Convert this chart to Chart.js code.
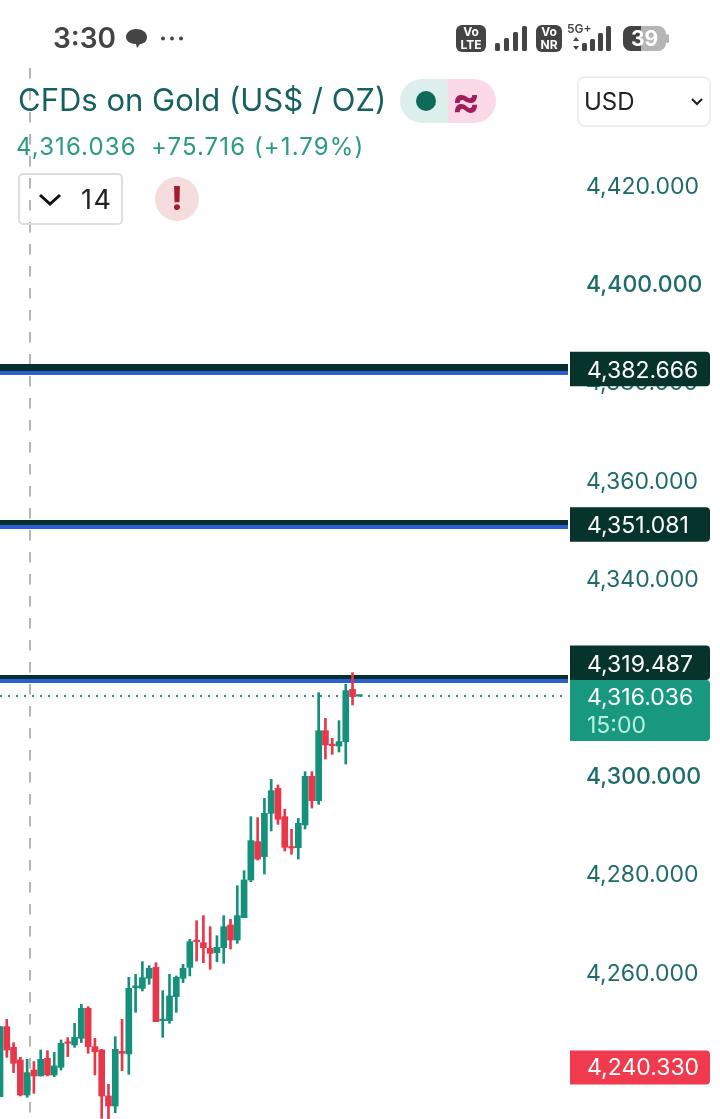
<!DOCTYPE html>
<html>
<head>
<meta charset="utf-8">
<title>CFDs on Gold</title>
<script src="https://cdn.jsdelivr.net/npm/chart.js@4"></script>
<style>
html, body { margin: 0; padding: 0; background: #fff; width: 720px; height: 1119px; overflow: hidden; }
body { font-family: Inter, sans-serif; position: relative; }
#myChart { position: absolute; left: 0; top: 0; }
.t { position: absolute; white-space: nowrap; line-height: 1; }
.box { position: absolute; box-sizing: border-box; }
svg { position: absolute; overflow: visible; }
</style>
</head>
<body>
<canvas id="myChart" width="720" height="1119"></canvas>

<div class="t" style="left:53px;top:24px;font-size:28px;font-weight:600;color:#444">3:30</div>
<svg style="left:125px;top:28px" width="24" height="22"><path d="M11 1c6 0 11 3 11 8s-4 7-7 7l-3 4-1-4C5 16 1 13 1 9s4-8 10-8z" fill="#444"/></svg>
<svg style="left:160px;top:36px" width="24" height="6"><circle cx="3" cy="2.5" r="2" fill="#444"/><circle cx="12" cy="2.5" r="2" fill="#444"/><circle cx="21" cy="2.5" r="2" fill="#444"/></svg>

<div class="box" style="left:456px;top:25px;width:30px;height:27px;background:#444;border-radius:6px"></div>
<div class="t" style="left:456px;top:26px;width:30px;text-align:center;font-size:12px;font-weight:700;color:#fff;line-height:12.5px">Vo<br>LTE</div>
<svg style="left:495px;top:26px" width="32" height="25" fill="#444"><rect x="0" y="17" width="5" height="8" rx="1.5"/><rect x="9" y="12" width="5" height="13" rx="1.5"/><rect x="18" y="6" width="5" height="19" rx="1.5"/><rect x="27" y="0" width="5" height="25" rx="1.5"/></svg>
<div class="box" style="left:536px;top:25px;width:26px;height:27px;background:#444;border-radius:6px"></div>
<div class="t" style="left:536px;top:26px;width:26px;text-align:center;font-size:12px;font-weight:700;color:#fff;line-height:12.5px">Vo<br>NR</div>
<div class="t" style="left:567px;top:23px;font-size:12px;font-weight:600;color:#444">5G+</div>
<svg style="left:573px;top:26px" width="40" height="25" fill="#444"><path d="M3 11l3 4H0zM3 24l3-4H0z"/><rect x="9" y="17" width="5" height="8" rx="1.5"/><rect x="17" y="13" width="5" height="12" rx="1.5"/><rect x="25" y="7" width="5" height="18" rx="1.5"/><rect x="33" y="0" width="5" height="25" rx="1.5"/></svg>
<svg style="left:623px;top:26px" width="47" height="25"><rect x="0" y="0" width="43" height="25" rx="8" fill="#b5b5b5"/><path d="M8 0h10v25H8a8 8 0 0 1-8-8V8a8 8 0 0 1 8-8z" fill="#444"/><rect x="43" y="8" width="3" height="9" rx="1.5" fill="#b5b5b5"/></svg>
<div class="t" style="left:623px;top:28px;width:43px;text-align:center;font-size:21px;font-weight:700;color:#fff">39</div>

<div class="t" style="left:18px;top:84px;font-size:31px;color:#16605f">CFDs on Gold (US$ / OZ)</div>
<div class="t" style="left:16px;top:135px;font-size:24px;letter-spacing:1.1px;color:#2a9a80">4,316.036</div>
<div class="t" style="left:151px;top:135px;font-size:24px;letter-spacing:1.1px;color:#2a9a80">+75.716 (+1.79%)</div>

<div class="box" style="left:18px;top:173px;width:105px;height:52px;border:2px solid #ddd;border-radius:5px"></div>
<svg style="left:38px;top:193px" width="24" height="14"><path d="M2 2l10 9 10-9" fill="none" stroke="#111" stroke-width="3"/></svg>
<div class="t" style="left:81px;top:186px;font-size:27px;letter-spacing:1.5px;color:#222">14</div>
<div class="box" style="left:155px;top:177px;width:44px;height:44px;border-radius:50%;background:#f5dcdd"></div>
<div class="t" style="left:155px;top:183px;width:44px;text-align:center;font-size:32px;font-weight:800;color:#a51c30">!</div>

<div class="box" style="left:400px;top:79px;width:48px;height:44px;background:#dcefec;border-radius:22px 0 0 22px"></div>
<div class="box" style="left:448px;top:79px;width:48px;height:44px;background:#fcd9e6;border-radius:0 22px 22px 0"></div>
<div class="box" style="left:416px;top:91px;width:20px;height:20px;border-radius:50%;background:#0e6b57"></div>
<div class="t" style="left:446px;top:80px;width:40px;text-align:center;font-size:42px;font-weight:700;color:#a01d5e">≈</div>

<div class="box" style="left:577px;top:76px;width:134px;height:51px;border:2px solid #eee;border-radius:8px"></div>
<div class="t" style="left:584px;top:90px;font-size:24px;color:#222">USD</div>
<svg style="left:691px;top:98px" width="12" height="8"><path d="M1 1l5 5 5-5" fill="none" stroke="#222" stroke-width="2.2"/></svg>

<script>
const opens = [4234.62, 4248.85, 4244.65, 4242.08, 4234.96, 4240.04, 4238.83, 4242.42, 4239.03, 4240.59,
  4245.74, 4245.13, 4246.48, 4252.58, 4244.79, 4244.11, 4234.76, 4232.73, 4243.84, 4243.30,
  4256.78, 4256.64, 4258.68, 4260.91, 4250.07, 4250.07, 4254.95, 4258.68, 4260.91, 4266.33,
  4265.92, 4264.77, 4263.89, 4264.90, 4269.51, 4266.46, 4271.00, 4278.66, 4286.45, 4283.40,
  4292.21, 4297.29, 4291.53, 4285.43, 4285.23, 4289.84, 4299.73, 4294.78, 4309.01, 4306.23,
  4305.89, 4306.77, 4317.41, 4316.036];
const closes = [4248.85, 4244.11, 4241.40, 4234.96, 4239.50, 4238.83, 4242.21, 4239.03, 4240.86, 4245.46,
  4245.46, 4246.68, 4252.58, 4244.79, 4243.77, 4234.76, 4232.73, 4244.25, 4243.43, 4256.64,
  4257.12, 4258.81, 4260.71, 4249.87, 4250.34, 4255.09, 4258.88, 4260.71, 4266.13, 4266.12,
  4264.90, 4263.75, 4264.97, 4269.17, 4266.46, 4271.41, 4278.66, 4286.65, 4282.93, 4292.21,
  4296.81, 4290.99, 4285.30, 4285.16, 4290.18, 4299.73, 4294.78, 4309.01, 4306.10, 4305.96,
  4306.77, 4317.14, 4315.92, 4316.036];
const highs = [4248.85, 4250.34, 4245.60, 4242.62, 4242.21, 4241.74, 4244.11, 4243.97, 4243.64, 4246.14,
  4246.62, 4249.53, 4253.39, 4252.92, 4246.48, 4244.25, 4237.13, 4246.82, 4250.34, 4258.88,
  4259.49, 4262.06, 4261.25, 4261.86, 4256.17, 4259.49, 4259.15, 4261.52, 4266.60, 4270.39,
  4271.41, 4269.17, 4267.34, 4271.41, 4270.66, 4277.50, 4280.55, 4291.53, 4291.33, 4295.26,
  4299.12, 4297.97, 4293.02, 4288.96, 4291.19, 4300.68, 4300.68, 4316.73, 4311.52, 4307.45,
  4311.04, 4318.43, 4320.80, 4316.036];
const lows = [4234.62, 4242.62, 4239.50, 4234.76, 4234.49, 4235.30, 4238.83, 4238.83, 4238.69, 4240.04,
  4242.76, 4244.65, 4245.60, 4243.43, 4239.03, 4230.22, 4230.09, 4231.37, 4239.91, 4239.16,
  4251.76, 4256.10, 4257.46, 4249.87, 4246.68, 4249.53, 4251.76, 4257.80, 4259.15, 4262.19,
  4261.85, 4260.50, 4262.06, 4261.72, 4264.63, 4265.78, 4271.00, 4278.32, 4282.72, 4279.88,
  4288.62, 4289.97, 4284.55, 4283.88, 4282.93, 4289.03, 4293.29, 4294.04, 4303.25, 4304.20,
  4304.67, 4302.23, 4314.22, 4316.036];

const yTicks = [4420, 4400, 4380, 4360, 4340, 4320, 4300, 4280, 4260, 4240];
const boldTicks = [4400, 4300];
const levels = [4382.666, 4351.081, 4319.487];
const lastPrice = 4316.036;
const lastTimer = '15:00';
const dayOpen = 4240.33;

const green = '#15907a';
const red = '#e8374a';
const fontName = 'Inter, sans-serif';
const levelDark = [7, 5, 4];

function fmt(v) {
  return v.toLocaleString('en-US', { minimumFractionDigits: 3, maximumFractionDigits: 3 });
}

const colors = closes.map((c, i) => c >= opens[i] ? green : red);

function priceLabel(ctx, y, h, color) {
  ctx.fillStyle = color;
  ctx.beginPath();
  ctx.roundRect(570, y, 140, h, [0, 4, 4, 0]);
  ctx.fill();
}

const overlay = {
  id: 'overlay',
  beforeDatasetsDraw(chart) {
    const ctx = chart.ctx, s = chart.scales.y, a = chart.chartArea;
    ctx.save();
    // crosshair
    ctx.strokeStyle = '#b5b5b5';
    ctx.lineWidth = 2;
    ctx.setLineDash([10.5, 11.5]);
    ctx.beginPath();
    ctx.moveTo(30, 68);
    ctx.lineTo(30, 1119);
    ctx.stroke();
    // last price dotted line
    ctx.strokeStyle = '#2a8f80';
    ctx.setLineDash([2, 6]);
    const py = Math.round(s.getPixelForValue(lastPrice));
    ctx.beginPath();
    ctx.moveTo(0, py);
    ctx.lineTo(a.right, py);
    ctx.stroke();
    ctx.setLineDash([]);
    // price levels
    levels.forEach((v, i) => {
      const y = Math.round(s.getPixelForValue(v)) - 4;
      ctx.fillStyle = '#06302f';
      ctx.fillRect(0, y, a.right, levelDark[i]);
      ctx.fillStyle = '#2a5fd0';
      ctx.fillRect(0, y + levelDark[i], a.right, 4);
    });
    ctx.restore();
  },
  afterDraw(chart) {
    const ctx = chart.ctx, s = chart.scales.y;
    ctx.save();
    ctx.font = '23px ' + fontName;
    ctx.textBaseline = 'middle';
    levels.forEach(v => {
      const y = s.getPixelForValue(v);
      const top = y - 16.5 - (v < 4320 ? 17 : 0);
      priceLabel(ctx, top, 34.5, '#06332c');
      ctx.fillStyle = '#fff';
      ctx.fillText(fmt(v), 587, top + 19);
    });
    const py = s.getPixelForValue(lastPrice);
    priceLabel(ctx, py - 16, 61, '#17987f');
    ctx.fillStyle = '#fff';
    ctx.fillText(fmt(lastPrice), 587, py + 2);
    ctx.fillStyle = '#b8f0dd';
    ctx.fillText(lastTimer, 587, py + 30);
    const oy = s.getPixelForValue(dayOpen);
    priceLabel(ctx, oy - 18, 34, '#ef3b4d');
    ctx.fillStyle = '#fff';
    ctx.fillText(fmt(dayOpen), 587, oy);
    ctx.restore();
  }
};

const myChart = new Chart(document.getElementById('myChart'), {
  type: 'bar',
  data: {
    datasets: [
      {
        label: 'wick',
        data: highs.map((h, i) => ({ x: i, y: [lows[i], h] })),
        backgroundColor: colors,
        barThickness: 2,
        grouped: false,
        order: 2
      },
      {
        label: 'body',
        data: opens.map((o, i) => ({ x: i, y: [o, closes[i]] })),
        backgroundColor: colors,
        barThickness: 6,
        minBarLength: 1.5,
        grouped: false,
        order: 1
      }
    ]
  },
  options: {
    responsive: false,
    devicePixelRatio: 1,
    animation: false,
    layout: { padding: 0 },
    plugins: { legend: { display: false }, tooltip: { enabled: false }, title: { display: false } },
    scales: {
      x: {
        type: 'linear',
        min: 0,
        max: 83.78,
        offset: false,
        display: false
      },
      y: {
        position: 'right',
        min: 4230.08,
        max: 4457.52,
        offset: false,
        grid: { display: false, drawTicks: false },
        border: { display: false },
        afterBuildTicks(axis) { axis.ticks = yTicks.map(v => ({ value: v })); },
        afterFit(axis) {
          axis.width = 152;
          axis.paddingTop = 0;
          axis.paddingBottom = 0;
        },
        ticks: {
          autoSkip: false,
          padding: 18,
          labelOffset: 2,
          color: '#1f6b6b',
          font: ctx => ({
            family: fontName,
            size: 23,
            weight: ctx.tick && boldTicks.includes(ctx.tick.value) ? '500' : '400'
          }),
          callback: v => fmt(v)
        }
      }
    }
  },
  plugins: [overlay]
});
</script>
</body>
</html>
